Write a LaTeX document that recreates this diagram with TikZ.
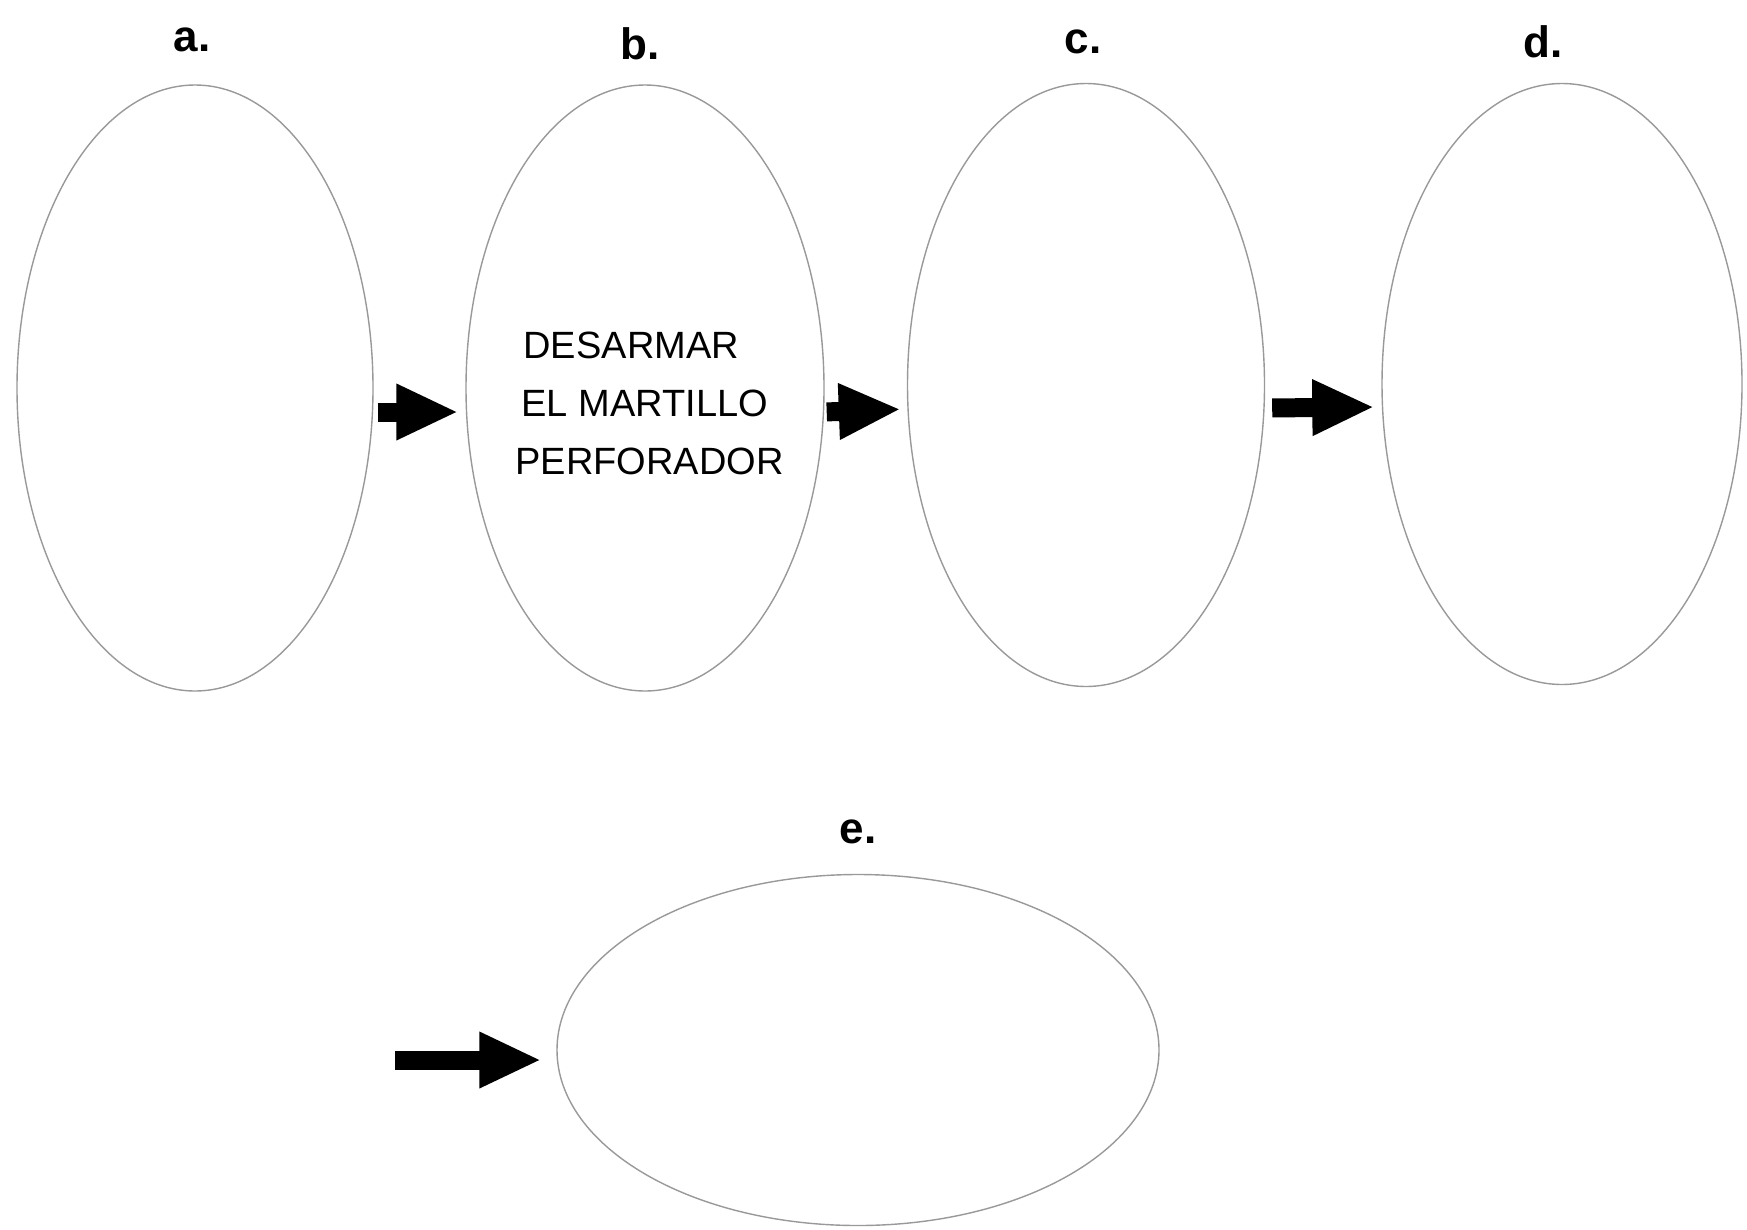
\documentclass[tikz,border=0pt]{standalone}
\usepackage{fontspec}
\setmainfont{Liberation Sans}
\usetikzlibrary{shapes.geometric,arrows.meta}
\begin{document}
\begin{tikzpicture}[x=1pt,y=-1pt,
  oval/.style={draw=black!40, line width=1.4pt, ellipse, inner sep=0pt},
  letter/.style={font=\bfseries\fontsize{44}{50}\selectfont},
  blockarrow/.style={line width=19pt, -{Triangle[length=62pt,width=52pt]}},
  steptext/.style={font=\fontsize{38}{58}\selectfont, align=left, anchor=west}]
\useasboundingbox[fill=white] (0,0) rectangle (1747,1229);
% ellipses
\node[oval, minimum width=356pt, minimum height=606pt] (a) at (195,388) {};
\node[oval, minimum width=358pt, minimum height=606pt] (b) at (645,388) {};
\node[oval, minimum width=357pt, minimum height=603pt] (c) at (1086,385) {};
\node[oval, minimum width=360pt, minimum height=601pt] (d) at (1562,384) {};
\node[oval, minimum width=602pt, minimum height=351pt] (e) at (858,1050) {};
% labels
\node[letter] (la) at (192,40) {a.};
\node[letter] (lb) at (640,44) {b.};
\node[letter] (lc) at (1083,42) {c.};
\node[letter] (ld) at (1543,42) {d.};
\node[letter] (le) at (858,832) {e.};
% text
\node[steptext] (bt) at (512,403) {\hspace*{8pt}DESARMAR\\\hspace*{6pt}EL MARTILLO\\PERFORADOR};
% arrows
\draw[blockarrow, shorten <=4pt, shorten >=7pt] ([yshift=-24pt]a.east) -- ([yshift=-24pt]b.west);
\draw[blockarrow, shorten <=2pt, shorten >=6pt] ([yshift=-24pt]b.east) -- ([yshift=-24pt]c.west);
\draw[blockarrow, shorten <=7pt, shorten >=7pt] ([yshift=-23pt]c.east) -- ([yshift=-23pt]d.west);
\coordinate (es) at (395,1060);
\draw[blockarrow, shorten >=15pt] (es) -- (es -| e.west);
\end{tikzpicture}
\end{document}
